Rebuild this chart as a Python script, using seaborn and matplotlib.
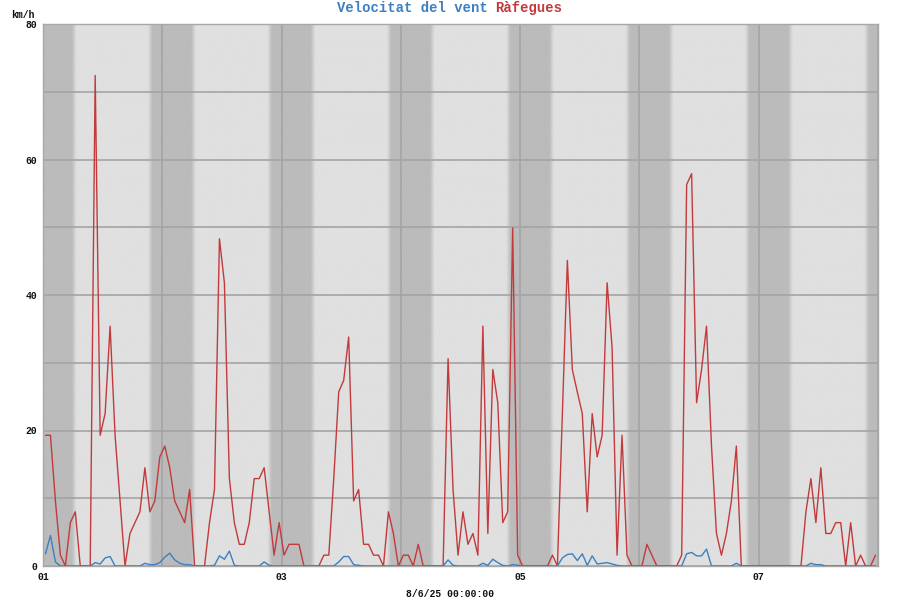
import numpy as np
import pandas as pd
import matplotlib
matplotlib.use("Agg")
import matplotlib.pyplot as plt
import seaborn as sns
from matplotlib.ticker import MultipleLocator, FixedLocator, FixedFormatter

# ---------------- data (hourly values, km/h) ----------------
ratxes = [
    19.3, 19.3, 9.6, 1.6, 0, 6.4, 8.0, 0, 0, 0, 72.4, 19.3, 22.5, 35.4, 19.3, 9.6, 0, 4.8, 6.4, 8.0, 14.5, 8.0, 9.6, 16.1,
    17.7, 14.5, 9.6, 8.0, 6.4, 11.3, 0, 0, 0, 6.4, 11.3, 48.3, 41.8, 12.9, 6.4, 3.2, 3.2, 6.4, 12.9, 12.9, 14.5, 8.0, 1.6, 6.4,
    1.6, 3.2, 3.2, 3.2, 0, 0, 0, 0, 1.6, 1.6, 12.9, 25.7, 27.4, 33.8, 9.6, 11.3, 3.2, 3.2, 1.6, 1.6, 0, 8.0, 4.8, 0,
    1.6, 1.6, 0, 3.2, 0, 0, 0, 0, 0, 30.6, 11.3, 1.6, 8.0, 3.2, 4.8, 1.6, 35.4, 4.8, 29.0, 24.1, 6.4, 8.0, 49.9, 1.6,
    0, 0, 0, 0, 0, 0, 1.6, 0, 22.5, 45.1, 29.0, 25.7, 22.5, 8.0, 22.5, 16.1, 19.3, 41.8, 32.2, 1.6, 19.3, 1.6, 0, 0,
    0, 3.2, 1.6, 0, 0, 0, 0, 0, 1.6, 56.3, 57.9, 24.1, 29.0, 35.4, 17.7, 4.8, 1.6, 4.8, 9.6, 17.7, 0, 0, 0, 0,
    0, 0, 0, 0, 0, 0, 0, 0, 0, 8.0, 12.9, 6.4, 14.5, 4.8, 4.8, 6.4, 6.4, 0, 6.4, 0, 1.6, 0, 0, 1.6,
]
velocitat = [
    1.8, 4.5, 0.6, 0, 0, 0, 0, 0, 0, 0, 0.5, 0.3, 1.2, 1.4, 0, 0, 0, 0, 0, 0, 0.4, 0.2, 0.2, 0.5,
    1.3, 1.9, 0.9, 0.4, 0.2, 0.2, 0, 0, 0, 0, 0.1, 1.5, 1.0, 2.2, 0.1, 0, 0, 0, 0, 0, 0.6, 0.1, 0, 0,
    0, 0, 0, 0, 0, 0, 0, 0, 0, 0, 0, 0.6, 1.4, 1.4, 0.2, 0.1, 0, 0, 0, 0, 0, 0, 0, 0,
    0, 0, 0, 0, 0, 0, 0, 0, 0, 0.9, 0.1, 0, 0, 0, 0, 0, 0.4, 0.1, 1.0, 0.5, 0.1, 0, 0.2, 0.1,
    0, 0, 0, 0, 0, 0, 0, 0, 1.2, 1.7, 1.8, 0.8, 1.8, 0.1, 1.5, 0.3, 0.4, 0.5, 0.3, 0.1, 0, 0, 0, 0,
    0, 0, 0, 0, 0, 0, 0, 0, 0, 1.8, 2.0, 1.5, 1.5, 2.5, 0, 0, 0, 0, 0, 0.4, 0, 0, 0, 0,
    0, 0, 0, 0, 0, 0, 0, 0, 0, 0, 0.4, 0.2, 0.2, 0, 0, 0, 0, 0, 0, 0, 0, 0, 0, 0,
]
hores = [h + 0.5 for h in range(len(ratxes))]          # hours since 01/06/25 00:00
dies_etiqueta = ["01", "03", "05", "07"]
dies_hores = [0, 48, 96, 144]
y_ticks = [0, 20, 40, 60, 80]
titol_vel = "Velocitat del vent"
titol_rat = "Ràfegues"
unitat = "km/h"
xlabel = "8/6/25 00:00:00"

df = pd.DataFrame({"hora": hores, "ratxa": ratxes, "vel": velocitat})

# ---------------- style ----------------
sns.set_theme(style="white")
plt.rcParams["font.family"] = ["Liberation Mono", "DejaVu Sans Mono"]
plt.rcParams["font.weight"] = "bold"

RED = "#c23a3c"
BLUE = "#3a80c2"
LIGHT = np.array([224, 224, 224]) / 255
DARK = np.array([187, 187, 187]) / 255
GRID = "#a4a4a4"

fig = plt.figure(figsize=(9, 6), dpi=100)
ax = fig.add_axes([43 / 900, 34 / 600, 835 / 900, 542 / 600])

# night shading (day/night background)
t = np.linspace(0, 168, 4001)
hd = t % 24
dark = np.interp(hd, [0, 5.8, 6.7, 21.1, 22.0, 24], [1, 1, 0, 0, 1, 1])
img = LIGHT[None, None, :] - dark[None, :, None] * (LIGHT - DARK)[None, None, :]
ax.imshow(img, extent=(0, 168, 0, 80), aspect="auto", zorder=0, interpolation="bilinear")

sns.lineplot(data=df, x="hora", y="ratxa", color=RED, lw=1.0, ax=ax, zorder=3)
sns.lineplot(data=df, x="hora", y="vel", color=BLUE, lw=1.0, ax=ax, zorder=4)

ax.set_xlim(0, 168)
ax.set_ylim(0, 80)
ax.set_xlabel("")
ax.set_ylabel("")

ax.xaxis.set_major_locator(FixedLocator(dies_hores))
ax.xaxis.set_major_formatter(FixedFormatter(dies_etiqueta))
ax.xaxis.set_minor_locator(MultipleLocator(24))
ax.yaxis.set_major_locator(FixedLocator(y_ticks))
ax.yaxis.set_minor_locator(MultipleLocator(10))

ax.set_axisbelow("line")
ax.grid(True, which="both", color=GRID, lw=1.2)
ax.tick_params(axis="both", which="both", length=0)
ax.tick_params(axis="x", labelsize=7, pad=4)
ax.tick_params(axis="y", labelsize=7, pad=4)
for lab in ax.get_xticklabels() + ax.get_yticklabels():
    lab.set_fontweight("bold")
    lab.set_color("#111111")

for s in ax.spines.values():
    s.set_color("#a8a8a8")
    s.set_linewidth(1.0)

fig.text(337 / 900, 1 - 8 / 600, titol_vel, color=BLUE, fontsize=10, fontweight="bold",
         ha="left", va="center")
fig.text(495 / 900, 1 - 8 / 600, titol_rat, color=RED, fontsize=10, fontweight="bold",
         ha="left", va="center")
fig.text(11 / 900, 1 - 15 / 600, unitat, color="#111111", fontsize=7, fontweight="bold",
         ha="left", va="center")
fig.text(450 / 900, 6 / 600, xlabel, color="#111111", fontsize=7, fontweight="bold",
         ha="center", va="center")

fig.savefig("out.png", dpi=100)
